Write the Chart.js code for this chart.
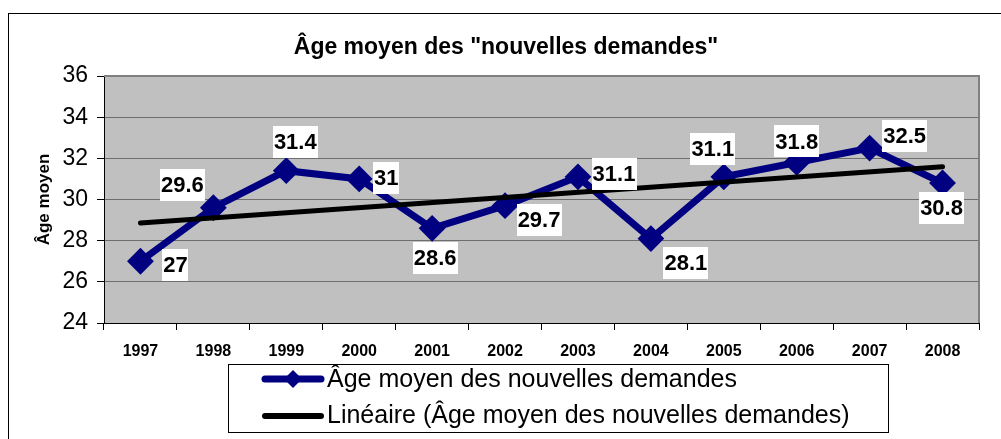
<!DOCTYPE html>
<html>
<head>
<meta charset="utf-8">
<script src="https://cdn.jsdelivr.net/npm/chart.js@4.4.0/dist/chart.umd.min.js"></script>
<style>
	body { margin: 0; background: #fff; }
	#graphique { display: block; }
</style>
</head>
<body>
<canvas id="graphique" width="1001" height="439"></canvas>
<script>
/* données */
var annees = ['1997', '1998', '1999', '2000', '2001', '2002', '2003', '2004', '2005', '2006', '2007', '2008'];
var ageMoyen = [27, 29.6, 31.4, 31, 28.6, 29.7, 31.1, 28.1, 31.1, 31.8, 32.5, 30.8];
// droite de tendance : seulement les deux extrémités
var tendance = [28.86, null, null, null, null, null, null, null, null, null, null, 31.59];
var graduationsY = [24, 26, 28, 30, 32, 34, 36];

var titre = 'Âge moyen des "nouvelles demandes"';
var nomSerie = 'Âge moyen des nouvelles demandes';
var nomTendance = 'Linéaire (Âge moyen des nouvelles demandes)';

// décalage des étiquettes (dx, dy) par rapport au point
var decalages = [[35, 4], [-31, -23], [9, -29], [27, -1], [3, 30], [34, 14],
	[36, -3], [35, 24], [-11, -28], [0, -21], [35, -12], [-1, 25]];

var police = "'Liberation Sans', Arial, sans-serif";
Chart.defaults.font.family = police;
Chart.defaults.color = '#000';

// fond gris + cadres
var cadrePlugin = {
	id: 'cadre',
	beforeDraw: function(chart) {
		var ctx = chart.ctx;
		var a = chart.chartArea;
		ctx.save();
		ctx.fillStyle = '#fff';
		ctx.fillRect(0, 0, chart.width, chart.height);
		ctx.strokeStyle = '#000';
		ctx.lineWidth = 1;
		ctx.strokeRect(8.5, 13.5, 1100, 600);
		ctx.fillStyle = '#c0c0c0';
		ctx.fillRect(a.left, a.top, a.right - a.left, a.bottom - a.top);
		ctx.restore();
	},
	afterDraw: function(chart) {
		var ctx = chart.ctx;
		var a = chart.chartArea;
		ctx.save();
		ctx.strokeStyle = '#808080';
		ctx.lineWidth = 2;
		ctx.beginPath();
		ctx.moveTo(a.left, a.top);
		ctx.lineTo(a.right, a.top);
		ctx.lineTo(a.right, a.bottom);
		ctx.stroke();
		// titre
		ctx.fillStyle = '#000';
		ctx.font = 'bold 23px ' + police;
		ctx.textAlign = 'center';
		ctx.textBaseline = 'middle';
		ctx.fillText(titre, 506, 48);
		ctx.restore();
	}
};

// étiquettes des valeurs sur fond blanc
var etiquettesPlugin = {
	id: 'etiquettes',
	afterDatasetsDraw: function(chart) {
		var ctx = chart.ctx;
		var meta = chart.getDatasetMeta(1);
		ctx.save();
		ctx.font = 'bold 22px ' + police;
		ctx.textAlign = 'center';
		ctx.textBaseline = 'middle';
		meta.data.forEach(function(pt, i) {
			var txt = String(ageMoyen[i]);
			var x = pt.x + decalages[i][0];
			var y = pt.y + decalages[i][1];
			var w = ctx.measureText(txt).width + 2;
			ctx.fillStyle = '#fff';
			ctx.fillRect(Math.round(x - w / 2), Math.round(y - 16), Math.round(w), 32);
			ctx.fillStyle = '#000';
			ctx.fillText(txt, x, y + 1);
		});
		ctx.restore();
	}
};

// légende encadrée
var legendePlugin = {
	id: 'legende',
	afterDraw: function(chart) {
		var ctx = chart.ctx;
		ctx.save();
		ctx.strokeStyle = '#000';
		ctx.lineWidth = 1;
		ctx.fillStyle = '#fff';
		ctx.fillRect(228.5, 364.5, 660, 68);
		ctx.strokeRect(228.5, 364.5, 660, 68);
		ctx.lineCap = 'round';
		// série
		ctx.strokeStyle = '#000080';
		ctx.lineWidth = 7;
		ctx.beginPath();
		ctx.moveTo(265, 379);
		ctx.lineTo(321, 379);
		ctx.stroke();
		ctx.fillStyle = '#000080';
		ctx.beginPath();
		ctx.moveTo(293, 370);
		ctx.lineTo(302, 379);
		ctx.lineTo(293, 388);
		ctx.lineTo(284, 379);
		ctx.closePath();
		ctx.fill();
		// tendance
		ctx.strokeStyle = '#000';
		ctx.lineWidth = 6;
		ctx.beginPath();
		ctx.moveTo(265, 416);
		ctx.lineTo(321, 416);
		ctx.stroke();
		ctx.fillStyle = '#000';
		ctx.font = '25px ' + police;
		ctx.textAlign = 'left';
		ctx.textBaseline = 'middle';
		ctx.fillText(nomSerie, 327, 380);
		ctx.fillText(nomTendance, 327, 416);
		ctx.restore();
	}
};

var ctx = document.getElementById('graphique');
var myChart = new Chart(ctx, {
	type: 'line',
	data: {
		labels: annees,
		datasets: [{
			label: nomTendance,
			data: tendance,
			borderColor: '#000',
			borderWidth: 5,
			borderCapStyle: 'round',
			pointRadius: 0,
			spanGaps: true,
			order: 0
		}, {
			label: nomSerie,
			data: ageMoyen,
			borderColor: '#000080',
			backgroundColor: '#000080',
			borderWidth: 7,
			pointStyle: 'rectRot',
			pointRadius: 12,
			pointBorderWidth: 2,
			pointBackgroundColor: '#000080',
			pointBorderColor: '#000080',
			tension: 0,
			order: 1
		}]
	},
	options: {
		responsive: false,
		animation: false,
		devicePixelRatio: 1,
		layout: {
			padding: { left: 0, top: 76, right: 22, bottom: 80 }
		},
		plugins: {
			legend: { display: false },
			title: { display: false },
			tooltip: { enabled: false }
		},
		scales: {
			x: {
				offset: true,
				grid: {
					display: true,
					drawOnChartArea: false,
					offset: true,
					tickLength: 7,
					tickColor: '#000'
				},
				border: { color: '#000', width: 1 },
				ticks: {
					font: { size: 16, weight: 'bold' },
					padding: 12,
					maxRotation: 0
				},
				afterFit: function(scale) { scale.height = 36; }
			},
			y: {
				min: 24,
				max: 36,
				afterBuildTicks: function(scale) {
					scale.ticks = graduationsY.map(function(v) { return { value: v }; });
				},
				grid: {
					color: '#6e6e6e',
					tickColor: '#000',
					tickLength: 7
				},
				border: { color: '#000', width: 1 },
				ticks: {
					font: { size: 23 },
					padding: 9
				},
				title: {
					display: true,
					text: 'Âge moyen',
					font: { size: 17, weight: 'bold' },
					padding: { top: 34, bottom: 0 }
				},
				afterFit: function(scale) { scale.width = 104; }
			}
		}
	},
	plugins: [cadrePlugin, etiquettesPlugin, legendePlugin]
});
</script>
</body>
</html>
